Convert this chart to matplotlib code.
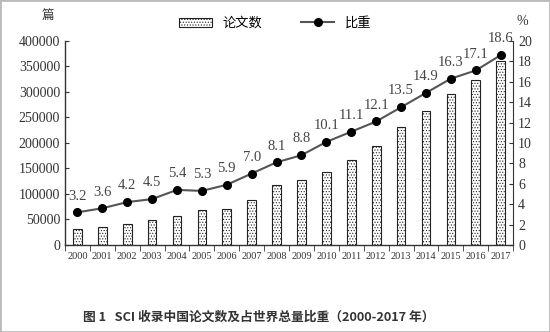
import numpy as np
from matplotlib import pyplot as plt
from matplotlib.patches import Rectangle

plt.rcParams['font.family'] = ['Liberation Serif', 'Noto Sans CJK SC']
plt.rcParams['hatch.linewidth'] = 0.5

# data
years = [str(y) for y in range(2000, 2018)]
papers = [30500, 35700, 40800, 49800, 57400, 68200, 71200, 89100, 116700,
          127500, 143800, 165800, 193700, 231400, 263500, 296800, 324200, 361300]
share = [3.2, 3.6, 4.2, 4.5, 5.4, 5.3, 5.9, 7.0, 8.1, 8.8, 10.1, 11.1,
         12.1, 13.5, 14.9, 16.3, 17.1, 18.6]

fig = plt.figure(figsize=(5.5, 3.32), dpi=100)
ax = fig.add_axes([0.118, 0.262, 0.815, 0.615])
x = np.arange(len(years))

bars = ax.bar(x, papers, width=0.35, color='white', edgecolor='#222222',
              hatch='......', linewidth=0.8, label='论文数')
ax.set_xlim(-0.5, len(years) - 0.5)
ax.set_ylim(0, 400000)
ax.set_yticks(range(0, 400001, 50000))
ax.set_xticks(x)
ax.set_xticklabels(years, fontsize=7.5, color='#333333')
ax.tick_params(axis='x', length=0, pad=5)
ax.set_xticks(np.arange(-0.5, len(years), 1), minor=True)
ax.tick_params(axis='x', which='minor', length=4, direction='out', color='#333333')
ax.tick_params(axis='y', direction='in', length=3, labelsize=10, colors='#333333')
ax.spines['top'].set_visible(False)
ax.spines['right'].set_visible(False)
for s in ['left', 'bottom']:
    ax.spines[s].set_color('#333333')
    ax.spines[s].set_linewidth(1.0)

ax2 = ax.twinx()
line, = ax2.plot(x, share, color='#555555', linewidth=1.5, marker='o',
                 markersize=5.5, markerfacecolor='black', markeredgecolor='black',
                 label='比重')
ax2.set_ylim(0, 20)
ax2.set_yticks(range(0, 21, 2))
ax2.tick_params(axis='y', direction='in', length=3, labelsize=10, colors='#333333')
ax2.spines['top'].set_visible(False)
ax2.spines['left'].set_visible(False)
ax2.spines['bottom'].set_visible(False)
ax2.spines['right'].set_color('#333333')
for xi, v in zip(x, share):
    ax2.annotate(f'{v:.1f}', (xi, v), xytext=(0, 7), textcoords='offset points',
                 ha='center', va='bottom', fontsize=10.5, color='#444444')

fig.text(0.087, 0.935, '篇', ha='center', va='bottom', fontsize=9,
         family=['Noto Sans CJK SC'], color='#333333')
fig.text(0.95, 0.915, '%', ha='center', va='bottom', fontsize=10, color='#333333')

fig.legend([bars, line], ['论文数', '比重'], loc='center', ncol=2,
           bbox_to_anchor=(0.5, 0.93), frameon=False, handlelength=2.5,
           columnspacing=3, prop={'family': 'Noto Sans CJK SC', 'size': 9.5})

fig.text(0.47, 0.045, '图 1   SCI 收录中国论文数及占世界总量比重（2000-2017 年）',
         ha='center', va='center', fontsize=9.2, fontweight='bold',
         family=['Noto Sans CJK SC', 'DejaVu Sans'], color='#333333')

fig.patches.append(Rectangle((0, 0), 1, 1, transform=fig.transFigure,
                             fill=False, edgecolor='#bbbbbb', linewidth=2))

fig.savefig('out.png', dpi=100)
